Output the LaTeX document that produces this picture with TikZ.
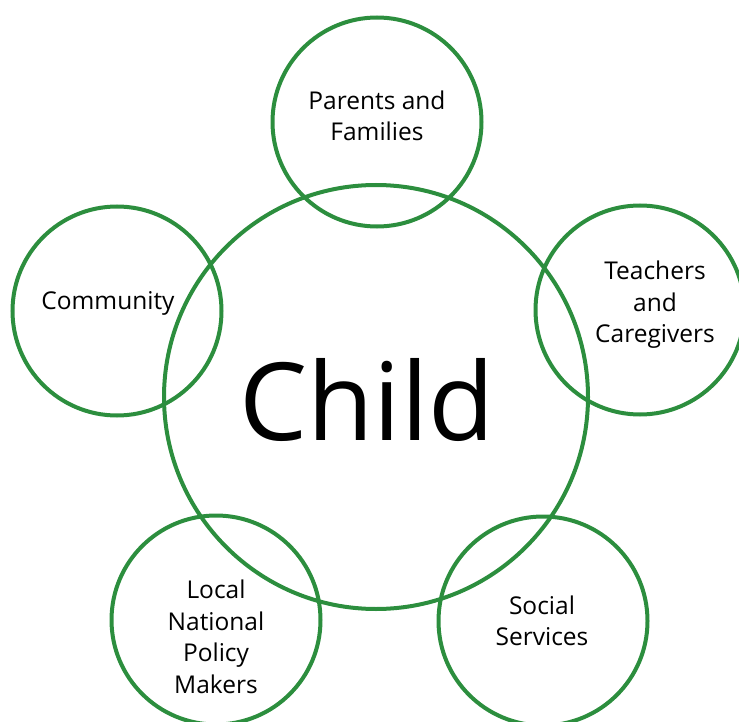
\documentclass[tikz,border=0pt]{standalone}
\usepackage{fontspec}
\setmainfont{Open Sans}
\definecolor{ringgreen}{RGB}{44,142,62}
\begin{document}
\begin{tikzpicture}[x=1pt,y=-1pt,
  ring/.style={draw=ringgreen,line width=4pt,circle,inner sep=0pt},
  lbl/.style={align=center,font=\fontsize{24.5}{31.5}\selectfont,inner sep=0pt}]
\useasboundingbox (0,0) rectangle (739,722);
\node[ring,minimum size=424pt] (child) at (376,397) {};
\node[ring,minimum size=209pt] (parents) at (377,122) {};
\node[ring,minimum size=209pt] (teachers) at (640,310) {};
\node[ring,minimum size=209pt] (community) at (117,311) {};
\node[ring,minimum size=209pt] (policy) at (216,620) {};
\node[ring,minimum size=209pt] (social) at (543,621) {};
\node[font=\fontsize{108}{110}\selectfont,inner sep=0pt] (childtxt) at (367,400) {Child};
\node[lbl] (parentstxt) at (377,116) {Parents and\\Families};
\node[lbl] (teacherstxt) at (655,305) {Teachers\\and\\Caregivers};
\node[lbl] (communitytxt) at (108,303) {Community};
\node[lbl] (policytxt) at (216,637) {Local\\National\\Policy\\Makers};
\node[lbl] (socialtxt) at (542,621) {Social\\Services};
\end{tikzpicture}
\end{document}
